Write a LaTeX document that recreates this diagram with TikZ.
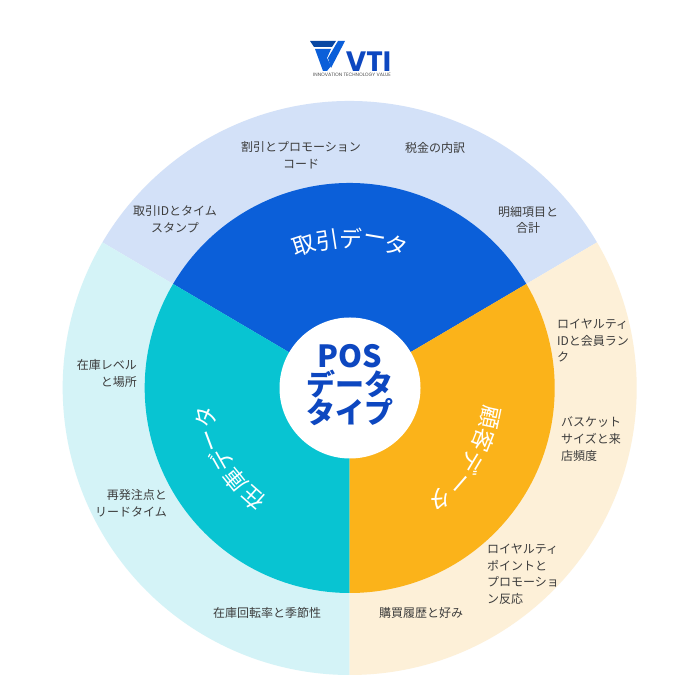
\documentclass[tikz,border=0pt]{standalone}
\usepackage{fontspec}
\usetikzlibrary{calc}
\setmainfont{Noto Sans CJK JP}
\newfontfamily\logofont{Poppins}
\definecolor{bluemain}{HTML}{0B5FD9}
\definecolor{cyanmain}{HTML}{08C4D2}
\definecolor{orangemain}{HTML}{FBB31A}
\definecolor{bluelight}{HTML}{D3E1F8}
\definecolor{cyanlight}{HTML}{D4F3F7}
\definecolor{orangelight}{HTML}{FDF0D8}
\definecolor{titleblue}{HTML}{0D47C0}
\definecolor{labelgrey}{HTML}{3C3C3C}
\tikzset{
  lbl/.style={font=\fontsize{12}{16.8}\selectfont,text=labelgrey,inner sep=0pt,align=center},
  lbll/.style={lbl,align=left,anchor=north west},
  lblr/.style={lbl,align=right,anchor=north east},
  arcch/.style={font=\fontsize{23}{23}\selectfont,text=white,inner sep=0pt},
}
\newcommand{\sectorfill}[4]{%
  \fill[#4] (349.7,312) -- ++(#1:#3) arc[start angle=#1,end angle=#2,radius=#3] -- cycle;}
\begin{document}
\begin{tikzpicture}[x=1pt,y=1pt]
\useasboundingbox (0,0) rectangle (700,700);
\fill[white] (0,0) rectangle (700,700);
\sectorfill{30.5}{149.5}{287}{bluelight}
\sectorfill{149.5}{270}{287}{cyanlight}
\sectorfill{270}{390.5}{287}{orangelight}
\sectorfill{30.5}{149.5}{205}{bluemain}
\sectorfill{149.5}{270}{205}{cyanmain}
\sectorfill{270}{390.5}{205}{orangemain}
\fill[white] (350,312) circle[radius=70.5];
% centre title
\node[font=\fontsize{29}{27.2}\selectfont\bfseries,text=titleblue,align=center,inner sep=0pt] (title) at (350,314.5) {\fontsize{30.5}{27.2}\selectfont POS\\データ\\タイプ};
% arc titles
\foreach \c/\a/\n in {取/108/ta,引/98.8/tb,デ/89.6/tc,ー/80.4/td,タ/72/te}{
  \node[arcch,rotate=\a-90] (\n) at ($(350,312)+(\a:150)$) {\c};}
\foreach \c/\a/\n in {在/228.5/la,庫/219/lb,デ/209.5/lc,ー/200.5/ld,タ/191.5/le}{
  \node[arcch,rotate=\a-90] (\n) at ($(350,312)+(\a:147)$) {\c};}
\foreach \c/\a/\n in {顧/-12/ra,客/-21.5/rb,デ/-31/rc,ー/-41/rd,タ/-51/re}{
  \node[arcch,rotate=\a-90] (\n) at ($(350,312)+(\a:143)$) {\c};}
% outer labels
\node[lbl] (l1) at (301,544.5) {割引とプロモーション\\コード};
\node[lbl] (l2) at (435,552.5) {税金の内訳};
\node[lbl] (l3) at (528,480) {明細項目と\\合計};
\node[lbl] (l4) at (175,480.5) {取引IDとタイム\\スタンプ};
\node[lbll] (r1) at (557,381.5) {ロイヤルティ\\IDと会員ラン\\ク};
\node[lbll] (r2) at (561,283.5) {バスケット\\サイズと来\\店頻度};
\node[lbll] (r3) at (487,156.5) {ロイヤルティ\\ポイントと\\プロモーショ\\ン反応};
\node[lbl] (r4) at (421,87.5) {購買履歴と好み};
\node[lbl] (b1) at (267,87.5) {在庫回転率と季節性};
\node[lblr] (b2) at (167,210.5) {再発注点と\\リードタイム};
\node[lblr] (b3) at (137,340.5) {在庫レベル\\と場所};
% logo
\fill[bluemain!75!black] (310,659) -- (336,659) -- (332,653) -- (314,653) -- cycle;
\fill[bluemain] (315,651) -- (331,651) -- (327,642) -- (331,634) -- (327,629) -- (323,629) -- cycle;
\fill[bluemain] (338,659) -- (345,659) -- (331,632) -- (328,642) -- cycle;
\node[font=\logofont\bfseries\fontsize{28}{28}\selectfont,text=titleblue,inner sep=0pt] (vti) at (368.5,638) {VTI};
\node[font=\logofont\fontsize{4.8}{4.8}\selectfont,text=black!70,inner sep=0pt] (tag) at (352,625) {INNOVATION TECHNOLOGY VALUE};
\end{tikzpicture}
\end{document}
